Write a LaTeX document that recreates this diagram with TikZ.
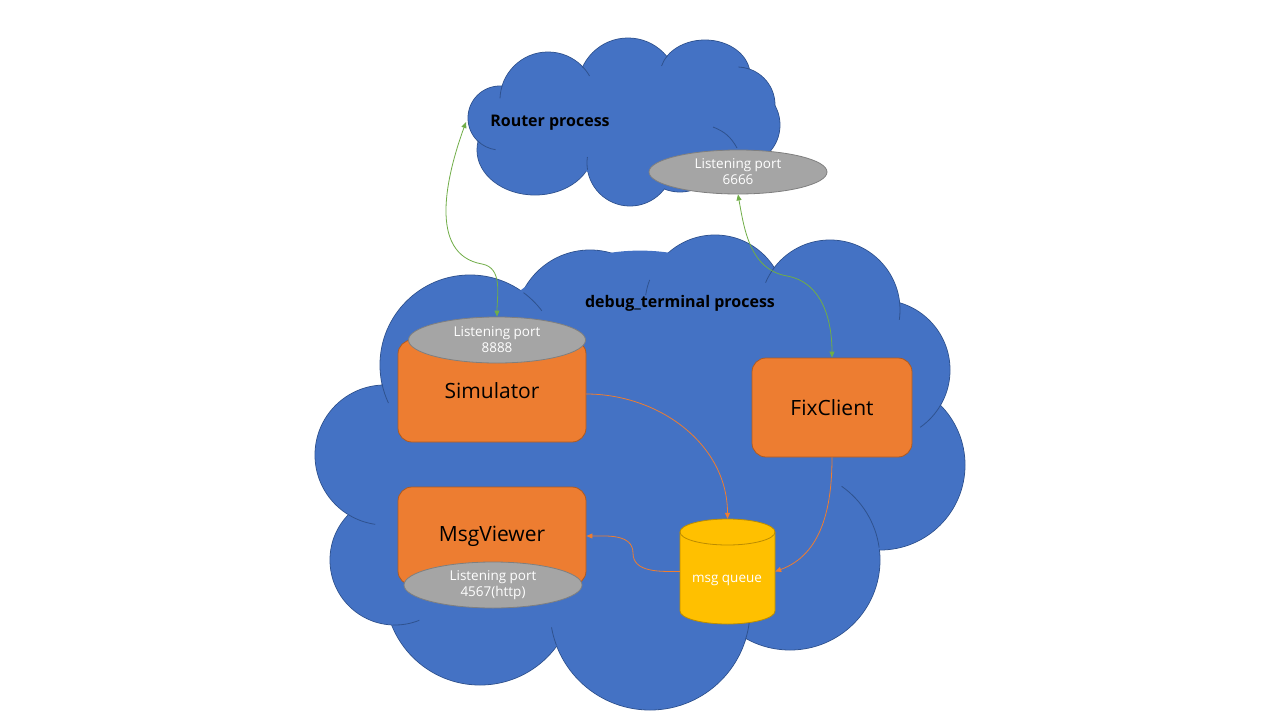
\documentclass[tikz,border=0pt]{standalone}
\usepackage{fontspec}
\setmainfont{Open Sans}
\usetikzlibrary{shapes.geometric,arrows.meta}
\definecolor{cloudfill}{HTML}{4472C4}
\definecolor{cloudline}{HTML}{2F528F}
\definecolor{orangefill}{HTML}{ED7D31}
\definecolor{orangeline}{HTML}{AE5A21}
\definecolor{grayfill}{HTML}{A5A5A5}
\definecolor{grayline}{HTML}{7F7F7F}
\definecolor{yellowfill}{HTML}{FFC000}
\definecolor{yellowline}{HTML}{BC8C00}
\definecolor{greenline}{HTML}{70AD47}
\begin{document}
\begin{tikzpicture}[x=1pt,y=1pt,
 lobe/.style={draw=cloudline, line width=0.8pt, fill=cloudfill},
 lobefill/.style={fill=cloudfill},
 innerarc/.style={draw=cloudline, line width=0.8pt},
 proc/.style={draw=orangeline, fill=orangefill, rounded corners=14pt, line width=0.8pt, font=\fontsize{21}{24}\selectfont, text=black},
 port/.style={ellipse, draw=grayline, fill=grayfill, line width=0.8pt, text=white, align=center, font=\fontsize{13.5}{16}\selectfont, inner sep=0pt},
 garrow/.style={draw=greenline, line width=0.8pt, {Triangle[length=6pt,width=5pt]}-{Triangle[length=6pt,width=5pt]}},
 oarrow/.style={draw=orangefill, line width=0.8pt, -{Triangle[length=6pt,width=5pt]}},
 title/.style={font=\bfseries\fontsize{16}{19}\selectfont, text=black}
]
\useasboundingbox[fill=white] (0,0) rectangle (1280,-720);
% ---------- bottom cloud ----------
\foreach \cx/\cy/\r in {470/365/90, 590/325/75, 715/305/70, 830/310/70, 880/370/70, 880/465/85, 790/560/90, 650/610/100, 480/590/95, 395/560/65, 385/455/70}
  \path[lobe] (\cx,-\cy) circle[radius=\r pt];
\foreach \cx/\cy/\r in {470/365/90, 590/325/75, 715/305/70, 830/310/70, 880/370/70, 880/465/85, 790/560/90, 650/610/100, 480/590/95, 395/560/65, 385/455/70, 640/450/200}
  \path[lobefill] (\cx,-\cy) circle[radius=\r pt-0.6pt];
% inner arcs (cx/cy/r/start/end)
\foreach \cx/\cy/\r/\a/\b in {470/365/90/53.5/37, 715/305/70/159/172, 830/310/70/143/157, 830/310/70/6/-8, 880/370/70/-30/-55, 790/560/90/8/55, 650/610/100/-17/-7, 650/610/100/200.6/190, 395/560/65/268/292, 385/455/70/239/262, 470/365/90/192/205}
  \draw[innerarc] (\cx,-\cy) ++(\a:\r) arc[start angle=\a, end angle=\b, radius=\r pt];
% ---------- top cloud ----------
\path[lobe] (500,-118) circle[radius=32pt];
\path[lobe] (548,-100) circle[radius=48pt];
\path[lobe] (628,-88) circle[radius=50pt];
\path[lobe] (705,-75) ellipse[x radius=45pt, y radius=35pt];
\path[lobe] (737,-105) circle[radius=38pt];
\path[lobe] (740,-125) circle[radius=40pt];
\path[lobe] (680,-150) circle[radius=42pt];
\path[lobe] (630,-163) circle[radius=43pt];
\path[lobe] (535,-150) ellipse[x radius=58pt, y radius=45pt];
\path[lobefill] (500,-118) circle[radius=31.4pt];
\path[lobefill] (548,-100) circle[radius=47.4pt];
\path[lobefill] (628,-88) circle[radius=49.4pt];
\path[lobefill] (705,-75) ellipse[x radius=44.4pt, y radius=34.4pt];
\path[lobefill] (737,-105) circle[radius=37.4pt];
\path[lobefill] (740,-125) circle[radius=39.4pt];
\path[lobefill] (680,-150) circle[radius=41.4pt];
\path[lobefill] (630,-163) circle[radius=42.4pt];
\path[lobefill] (535,-150) ellipse[x radius=57.4pt, y radius=44.4pt];
\path[lobefill] (625,-125) circle[radius=60pt];
\path[lobefill] (690,-115) circle[radius=45pt];
\path[lobefill] (580,-130) circle[radius=40pt];
\foreach \cx/\cy/\r/\a/\b in {548/100/48/163/178, 548/100/48/45/30, 737/105/38/71/88, 630/163/43/189/172, 500/118/32/226/262}
  \draw[innerarc] (\cx,-\cy) ++(\a:\r) arc[start angle=\a, end angle=\b, radius=\r pt];
\draw[innerarc] (705,-75) ++(147:45 and 35) arc[start angle=147, end angle=165, x radius=45pt, y radius=35pt];
\draw[innerarc] (713,-127) to[bend left=20] (737,-148);

% ---------- labels and nodes ----------
\node[title] (router) at (550,-123) {Router process};
\node[title] (debug) at (680,-303) {debug\_terminal process};

\node[port, minimum width=178pt, minimum height=44pt] (p6666) at (738,-172) {Listening port\\6666};

\node[proc, minimum width=188pt, minimum height=102pt] (sim) at (492,-391) {Simulator};
\node[port, minimum width=177pt, minimum height=46pt] (p8888) at (497,-340) {Listening port\\8888};

\node[proc, minimum width=188pt, minimum height=98pt] (mv) at (492,-536) {MsgViewer};
\node[port, minimum width=178pt, minimum height=46pt] (p4567) at (493,-585) {Listening port\\4567(http)};

\node[proc, minimum width=160pt, minimum height=99pt] (fc) at (832,-407.5) {FixClient};

% msg queue cylinder
\node[minimum width=95pt, minimum height=105pt, inner sep=0pt] (mq) at (727.5,-571.5) {};
\path[draw=yellowline, fill=yellowfill, line width=0.8pt]
  (680,-532) -- (680,-611) arc[start angle=180, end angle=360, x radius=47.5pt, y radius=13pt]
  -- (775,-532) arc[start angle=0, end angle=180, x radius=47.5pt, y radius=13pt] -- cycle;
\path[draw=yellowline, line width=0.8pt] (680,-532) arc[start angle=180, end angle=360, x radius=47.5pt, y radius=13pt];
\node[text=white, font=\fontsize{13.5}{16}\selectfont] (mqtext) at (727,-580) {msg queue};

% ---------- connectors ----------
\coordinate (rt) at (466,-122);
\coordinate (g1) at (482,-264);
\draw[garrow] (rt) to[out=250,in=170] (g1) to[out=-10,in=90] (p8888.north);
\coordinate (g2) at (787,-276);
\draw[garrow] (p6666.south) to[out=-80,in=170] (g2) to[out=-10,in=90] (fc.north);
\coordinate (se) at (586,-394);
\draw[oarrow] (se) to[out=0,in=90] (mq.north);
\draw[oarrow] (fc.south) to[out=-90,in=20] (mq.east);
\coordinate (g3) at (633,-553);
\draw[oarrow] (mq.west) to[out=180,in=-90] (g3) to[out=90,in=0] (mv.east);
\end{tikzpicture}
\end{document}
